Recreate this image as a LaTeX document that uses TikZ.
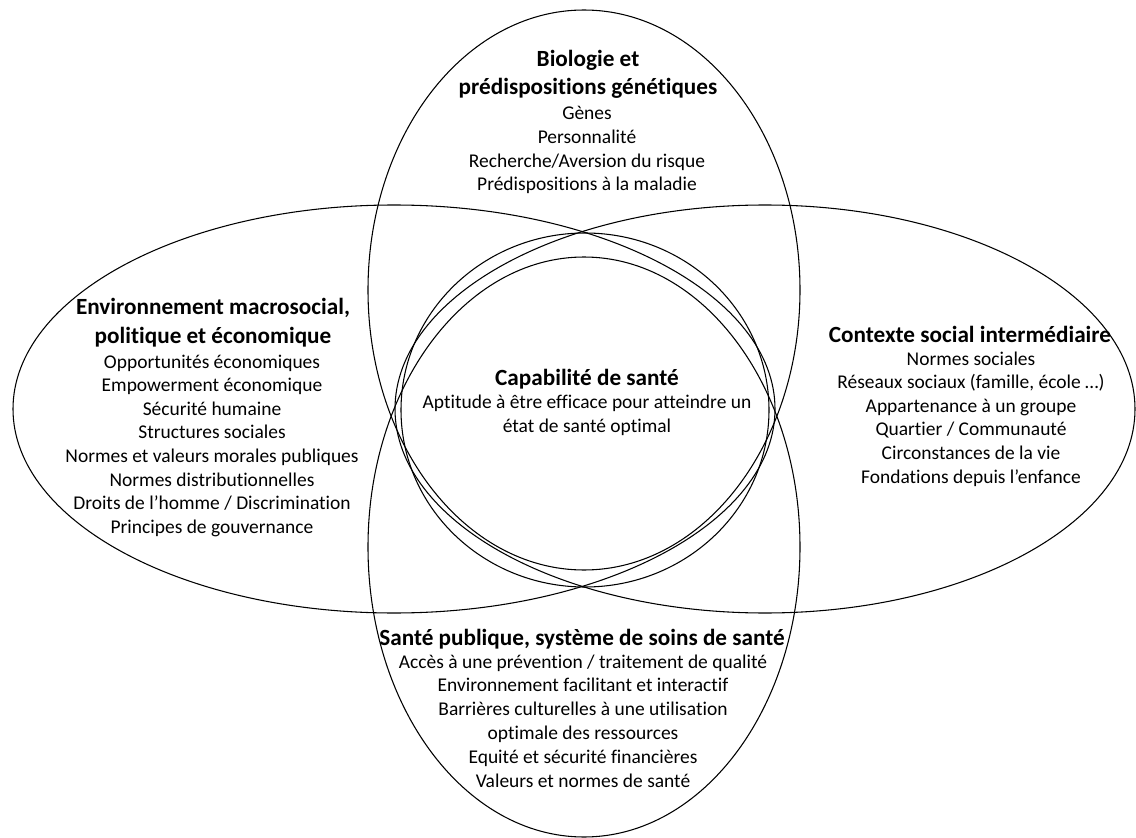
\documentclass[tikz,border=0pt]{standalone}
\usepackage{fontspec}
\setmainfont{Carlito}[Ligatures=CommonOff]
\usetikzlibrary{positioning}

\begin{document}
\begin{tikzpicture}[x=0.75pt, y=-0.75pt,
  field/.style={line width=0.8pt},
  heading/.style={anchor=base, inner sep=0pt, font=\bfseries\fontsize{17.4}{21}\selectfont},
  entry/.style={anchor=base, inner sep=0pt, font=\fontsize{14.6}{17}\selectfont}]

\useasboundingbox (0,0) rectangle (1136,838);

% the five domains
\draw [field] (584,290) ellipse [x radius=216, y radius=280];
\draw [field] (584,547) ellipse [x radius=216, y radius=290];
\draw [field] (394,409) ellipse [x radius=381, y radius=204];
\draw [field] (765,409) ellipse [x radius=370, y radius=204];
\draw [field] (585,410) ellipse [x radius=184, y radius=177];

% biologie
\node [heading] (bio-title1) at (588,67) {Biologie et};
\node [heading] (bio-title2) at (588,95) {prédispositions génétiques};
\foreach \t [count=\i from 0] in {Gènes, Personnalité,
    Recherche/Aversion du risque, Prédispositions à la maladie}
  \node [entry] (bio-\i) at (587,120+\i*23.6) {\t};

% environnement
\node [heading] (env-title1) at (213,315) {Environnement macrosocial,};
\node [heading] (env-title2) at (213,343) {politique et économique};
\foreach \t [count=\i from 0] in {Opportunités économiques,
    Empowerment économique, Sécurité humaine, Structures sociales,
    Normes et valeurs morales publiques, Normes distributionnelles,
    Droits de l’homme / Discrimination, Principes de gouvernance}
  \node [entry] (env-\i) at (212,368+\i*23.6) {\t};

% contexte
\node [heading] (ctx-title) at (970,342) {Contexte social intermédiaire};
\foreach \t [count=\i from 0] in {Normes sociales,
    {Réseaux sociaux (famille, école …)}, Appartenance à un groupe,
    Quartier / Communauté, Circonstances de la vie,
    Fondations depuis l’enfance}
  \node [entry] (ctx-\i) at (971,365+\i*23.6) {\t};

% capabilite
\node [heading] (cap-title) at (587,385) {Capabilité de santé};
\node [entry] (cap-1) at (587,408) {Aptitude à être efficace pour atteindre un};
\node [entry] (cap-2) at (587,432) {état de santé optimal};

% sante publique
\node [heading] (pub-title) at (582,645) {Santé publique, système de soins de santé};
\foreach \t [count=\i from 0] in {Accès à une prévention / traitement de qualité,
    Environnement facilitant et interactif,
    Barrières culturelles à une utilisation, optimale des ressources,
    Equité et sécurité financières, Valeurs et normes de santé}
  \node [entry] (pub-\i) at (583,668+\i*23.8) {\t};

\end{tikzpicture}
\end{document}
